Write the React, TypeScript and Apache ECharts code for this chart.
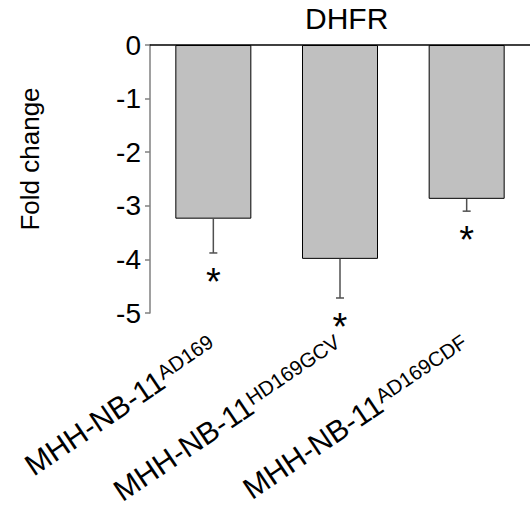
import React, { useEffect, useRef } from "react";
import * as echarts from "echarts";

const baseNames = ["MHH-NB-11", "MHH-NB-11", "MHH-NB-11"];
const supNames = ["AD169", "HD169GCV", "AD169CDF"];
const categories = baseNames.map((b, i) => b + supNames[i]);
const values = [-3.24, -3.99, -2.87];
const errors = [0.64, 0.73, 0.23];
const significant = [true, true, true];
const yTicks = { min: -5, max: 0, interval: 1 };

const FONT = "'Liberation Sans', Arial, sans-serif";

export default function App() {
  const ref = useRef<HTMLDivElement>(null);
  useEffect(() => {
    if (!ref.current) return;
    const chart = echarts.init(ref.current, undefined, { renderer: "svg" });
    const errData = values.map((v, i) => [i, v, v - errors[i], significant[i] ? 1 : 0]);
    chart.setOption({
      animation: false,
      textStyle: { fontFamily: FONT },
      title: {
        text: "DHFR",
        left: 305,
        top: 3,
        padding: 0,
        textStyle: { fontFamily: FONT, fontSize: 30, fontWeight: "normal", color: "#000" },
      },
      grid: { left: 150, top: 45, width: 384, height: 268 },
      xAxis: [
        {
          type: "category",
          data: categories,
          position: "top",
          axisLine: { show: true, lineStyle: { color: "#000", width: 1.5 } },
          axisTick: { show: false },
          axisLabel: { show: false },
        },
        {
          type: "category",
          data: categories,
          position: "bottom",
          axisLine: { show: false },
          axisTick: { show: false },
          axisLabel: {
            rotate: 34,
            margin: 30,
            interval: 0,
            formatter: (_v: string, i: number) => `{m|${baseNames[i]}}{s|${supNames[i]}}`,
            rich: {
              m: { fontFamily: FONT, fontSize: 30, color: "#000", lineHeight: 30, verticalAlign: "bottom" },
              s: { fontFamily: FONT, fontSize: 20.5, color: "#000", lineHeight: 20, verticalAlign: "top" },
            },
          },
        },
      ],
      yAxis: {
        type: "value",
        min: yTicks.min,
        max: yTicks.max,
        interval: yTicks.interval,
        name: "Fold change",
        nameLocation: "middle",
        nameRotate: 90,
        nameGap: 107,
        nameTextStyle: { fontFamily: FONT, fontSize: 26, color: "#000", padding: [0, 0, 0, 40] },
        axisLine: { show: true, lineStyle: { color: "#808080", width: 1.5 } },
        axisTick: { show: true, length: 5, lineStyle: { color: "#808080", width: 1.5 } },
        axisLabel: { fontFamily: FONT, fontSize: 28, color: "#000", margin: 9 },
        splitLine: { show: false },
      },
      series: [
        {
          type: "bar",
          xAxisIndex: 0,
          data: values,
          barWidth: "60%",
          itemStyle: { color: "#c0c0c0", borderColor: "#000", borderWidth: 1 },
          z: 2,
        },
        {
          type: "custom",
          xAxisIndex: 0,
          data: errData,
          z: 3,
          renderItem: (_params: any, api: any) => {
            const x = api.value(0);
            const top = api.coord([x, api.value(1)]);
            const bot = api.coord([x, api.value(2)]);
            const children: any[] = [
              {
                type: "line",
                shape: { x1: top[0], y1: top[1], x2: bot[0], y2: bot[1] },
                style: { stroke: "#505050", lineWidth: 1.5 },
              },
              {
                type: "line",
                shape: { x1: bot[0] - 4, y1: bot[1], x2: bot[0] + 4, y2: bot[1] },
                style: { stroke: "#505050", lineWidth: 1.5 },
              },
            ];
            if (api.value(3)) {
              children.push({
                type: "text",
                x: bot[0],
                y: bot[1] + 29,
                style: {
                  text: "*",
                  fontFamily: FONT,
                  fontSize: 38,
                  fill: "#000",
                  align: "center",
                  verticalAlign: "middle",
                },
              });
            }
            return { type: "group", children };
          },
        },
      ],
    });
    return () => chart.dispose();
  }, []);
  return (
    <div
      ref={ref}
      style={{ position: "fixed", left: 0, top: 0, width: 530, height: 510, background: "#fff" }}
    />
  );
}
